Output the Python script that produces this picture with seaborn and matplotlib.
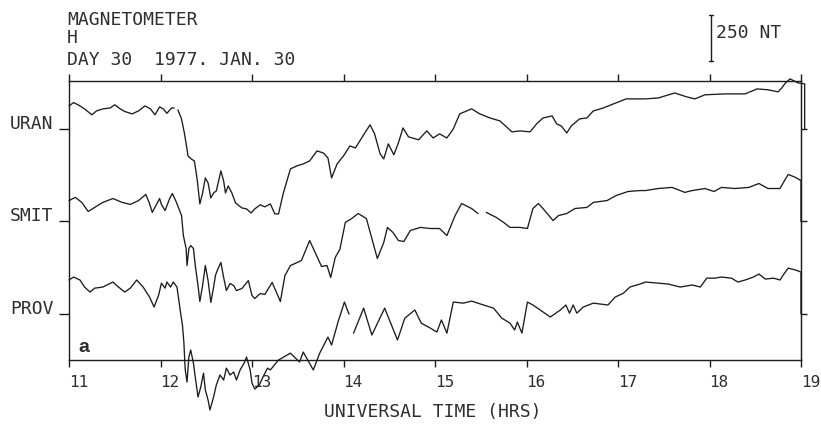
import numpy as np
import pandas as pd
import matplotlib
matplotlib.use("Agg")
import matplotlib.pyplot as plt
import seaborn as sns

# ---------------- data: (UT hour, H deviation in nT from station baseline) ----------------
STATIONS = ["URAN", "SMIT", "PROV"]
OFFSETS = [1000, 500, 0]          # vertical stacking offsets (nT)
XTICKS = [11, 12, 13, 14, 15, 16, 17, 18, 19]
SCALE_NT = 250
GAP = np.nan

URAN = [(11.00, 124), (11.05, 142), (11.10, 130), (11.17, 108), (11.25, 76), (11.30, 97),
        (11.37, 108), (11.45, 113), (11.50, 130), (11.56, 108), (11.61, 94), (11.69, 81),
        (11.76, 97), (11.83, 124), (11.89, 108), (11.94, 76), (11.99, 119), (12.03, 108),
        (12.07, 84), (12.12, 113), (12.15, 113), (12.17, GAP), (12.19, 103), (12.23, 53),
        (12.26, -20), (12.29, -110), (12.30, -146), (12.34, -164), (12.37, -173), (12.40, -270),
        (12.43, -405), (12.46, -346), (12.49, -265), (12.52, -292), (12.55, -373), (12.58, -346),
        (12.61, -335), (12.66, -227), (12.69, -281), (12.71, -346), (12.74, -308), (12.78, -346),
        (12.82, -400), (12.89, -427), (12.94, -432), (12.99, -454), (13.03, -432), (13.09, -410),
        (13.14, -421), (13.20, -405), (13.25, -459), (13.29, -459), (13.34, -351), (13.42, -216),
        (13.49, -200), (13.56, -189), (13.63, -173), (13.71, -119), (13.78, -130), (13.83, -157),
        (13.87, -265), (13.93, -189), (14.00, -146), (14.07, -92), (14.13, -103), (14.22, -32),
        (14.29, 22), (14.34, -27), (14.40, -135), (14.44, -162), (14.49, -81), (14.55, -140),
        (14.60, -76), (14.65, 5), (14.71, -43), (14.82, -59), (14.91, -11), (14.98, -49),
        (15.05, -27), (15.13, -49), (15.20, 0), (15.27, 81), (15.40, 108), (15.49, 81),
        (15.60, 59), (15.71, 43), (15.84, -16), (15.93, -11), (16.04, -16), (16.11, 27),
        (16.18, 59), (16.28, 70), (16.33, 27), (16.38, 16), (16.44, -22), (16.49, 16),
        (16.58, 54), (16.66, 59), (16.73, 97), (16.84, 113), (16.95, 135), (17.09, 162),
        (17.20, 162), (17.30, 162), (17.44, 167), (17.62, 194), (17.75, 173), (17.84, 162),
        (17.95, 184), (18.17, 189), (18.39, 189), (18.52, 216), (18.64, 211), (18.75, 200),
        (18.79, 221), (18.83, 248), (18.88, 270), (18.97, 248), (19.04, 243), (19.04, 0)]

SMIT = [(11.00, 113), (11.07, 130), (11.14, 103), (11.21, 54), (11.28, 76), (11.37, 103),
        (11.48, 124), (11.58, 103), (11.67, 92), (11.76, 113), (11.84, 146), (11.88, 97),
        (11.91, 49), (11.99, 124), (12.01, 92), (12.05, 59), (12.10, 124), (12.13, 151),
        (12.17, 108), (12.23, 32), (12.25, -76), (12.28, -146), (12.29, -238), (12.31, -146),
        (12.33, -130), (12.36, -146), (12.38, -238), (12.41, -346), (12.43, -432), (12.46, -346),
        (12.49, -238), (12.52, -319), (12.55, -437), (12.58, -356), (12.60, -292), (12.62, -265),
        (12.66, -221), (12.69, -302), (12.72, -373), (12.76, -335), (12.80, -346), (12.83, -373),
        (12.89, -362), (12.96, -319), (13.00, -400), (13.03, -416), (13.09, -389), (13.14, -394),
        (13.22, -329), (13.31, -432), (13.36, -292), (13.42, -238), (13.54, -211), (13.63, -103),
        (13.69, -167), (13.76, -243), (13.82, -238), (13.86, -302), (13.91, -194), (13.96, -151),
        (14.02, -5), (14.09, 16), (14.16, 43), (14.25, 16), (14.31, -92), (14.37, -200),
        (14.44, -113), (14.48, -32), (14.54, -59), (14.60, -103), (14.66, -108), (14.73, -49),
        (14.84, -32), (14.95, -38), (15.05, -38), (15.13, -76), (15.22, 32), (15.29, 97),
        (15.40, 70), (15.47, 43), (15.50, GAP), (15.56, 49), (15.67, 22), (15.75, -5),
        (15.82, -32), (15.93, -32), (16.01, -38), (16.07, 70), (16.13, 97), (16.18, 70),
        (16.29, 5), (16.35, 32), (16.44, 43), (16.53, 70), (16.66, 76), (16.73, 103),
        (16.88, 113), (16.98, 140), (17.11, 162), (17.24, 167), (17.30, 167), (17.44, 178),
        (17.59, 184), (17.68, 167), (17.73, 157), (17.81, 167), (17.95, 178), (18.05, 162),
        (18.13, 184), (18.28, 178), (18.43, 184), (18.54, 205), (18.64, 178), (18.77, 178),
        (18.82, 221), (18.86, 254), (18.94, 238), (19.00, 221), (19.00, 0)]

PROV = [(11.00, 184), (11.05, 200), (11.12, 184), (11.17, 146), (11.23, 119), (11.28, 140),
        (11.37, 146), (11.48, 173), (11.54, 146), (11.61, 119), (11.67, 140), (11.74, 184),
        (11.81, 146), (11.88, 92), (11.93, 38), (11.98, 103), (12.01, 167), (12.05, 140),
        (12.07, 173), (12.11, 146), (12.14, 173), (12.18, 146), (12.20, 76), (12.22, 5),
        (12.24, -60), (12.255, -150), (12.27, -300), (12.29, -367), (12.31, -232), (12.33, -194),
        (12.36, -265), (12.38, -340), (12.41, -448), (12.44, -394), (12.47, -319), (12.49, -410),
        (12.52, -464), (12.54, -518), (12.58, -448), (12.61, -383), (12.65, -329), (12.69, -356),
        (12.72, -292), (12.76, -329), (12.80, -313), (12.83, -356), (12.87, -302), (12.92, -259),
        (12.94, -232), (12.98, -302), (13.00, -373), (13.03, -405), (13.08, -383), (13.12, -340),
        (13.17, -292), (13.20, -302), (13.29, -248), (13.42, -211), (13.52, -259), (13.56, -205),
        (13.67, -302), (13.74, -211), (13.83, -124), (13.87, -167), (13.94, -43), (14.01, 65),
        (14.06, 0), (14.085, GAP), (14.11, -103), (14.22, 32), (14.31, -113), (14.45, 32),
        (14.59, -140), (14.67, -22), (14.78, 22), (14.85, -49), (14.95, -76), (15.02, -97),
        (15.07, -32), (15.13, -103), (15.20, 65), (15.31, 59), (15.40, 70), (15.53, 49),
        (15.64, 32), (15.73, -22), (15.82, -49), (15.87, -86), (15.90, -43), (15.95, -103),
        (16.01, 65), (16.07, 49), (16.15, 22), (16.26, -16), (16.37, 22), (16.43, 49),
        (16.47, 5), (16.51, 49), (16.55, 5), (16.62, 38), (16.73, 59), (16.89, 49),
        (16.97, 92), (17.06, 113), (17.13, 146), (17.24, 162), (17.30, 173), (17.44, 167),
        (17.55, 162), (17.68, 146), (17.81, 157), (17.90, 146), (17.97, 194), (18.06, 194),
        (18.13, 200), (18.24, 194), (18.31, 173), (18.39, 184), (18.48, 200), (18.54, 216),
        (18.61, 189), (18.70, 194), (18.77, 184), (18.82, 221), (18.86, 248), (18.94, 238),
        (19.00, 227), (19.00, 0)]

# ---------------- build long-form table ----------------
frames = []
for name, rows, off in zip(STATIONS, [URAN, SMIT, PROV], OFFSETS):
    d = pd.DataFrame(rows, columns=["time", "H"])
    d["H"] = d["H"].astype(float) + off
    seg = d["H"].isna().cumsum()
    d["unit"] = name + "_" + seg.astype(str)
    frames.append(d.dropna())
df = pd.concat(frames, ignore_index=True)

# ---------------- figure ----------------
sns.set_style("ticks")
plt.rcParams["font.family"] = ["DejaVu Sans Mono", "DejaVu Sans"]
INK = "#1c1c1c"
TXT = "#2e2e2e"
FS = 13

W, H = 821, 424
fig = plt.figure(figsize=(W / 100, H / 100), dpi=100)
ax = fig.add_axes([69 / W, 1 - 360 / H, 732 / W, 279 / H])

sns.lineplot(data=df, x="time", y="H", units="unit", estimator=None, sort=False,
             color=INK, lw=0.95, ax=ax, legend=False)
for ln in ax.lines:
    ln.set_clip_on(False)

ax.set_xlim(11, 19)
ax.set_ylim(-248, 1258.6)
ax.set_xlabel("")
ax.set_ylabel("")

for s in ax.spines.values():
    s.set_visible(True)
    s.set_color(INK)
    s.set_linewidth(1.0)

ax.set_xticks(XTICKS)
ax.set_xticklabels([str(v) for v in XTICKS], fontsize=11.5, color=TXT)
for lab in ax.get_xticklabels():
    lab.set_horizontalalignment("left")
ax.tick_params(axis="x", which="both", bottom=True, top=True, direction="out",
               length=5, width=1.0, color=INK, pad=6)

ax.set_yticks(OFFSETS)
ax.set_yticklabels(STATIONS, fontsize=FS, color=TXT)
for lab in ax.get_yticklabels():
    lab.set_verticalalignment("baseline")
ax.tick_params(axis="y", left=True, right=False, direction="out", length=7, width=1.0,
               color=INK, pad=4)

ax2 = ax.secondary_yaxis("right")
ax2.set_yticks(OFFSETS)
ax2.set_yticklabels([])
ax2.tick_params(axis="y", direction="out", length=4.5, width=1.0, color=INK)
ax2.spines["right"].set_color(INK)

# scale bar (250 nT)
SCALE_X = 18.016
SCALE_TOP = 1615
ax.plot([SCALE_X, SCALE_X], [SCALE_TOP, SCALE_TOP - SCALE_NT], color=INK, lw=1.0, clip_on=False)
for yy in (SCALE_TOP, SCALE_TOP - SCALE_NT):
    ax.plot([SCALE_X - 0.02, SCALE_X + 0.02], [yy, yy], color=INK, lw=1.0, clip_on=False)

def ftext(x, y, s, **kw):
    fig.text(x / W, 1 - y / H, s, va="baseline", color=TXT, **kw)

ftext(67, 25, "MAGNETOMETER", fontsize=FS)
ftext(67, 43, "H", fontsize=FS)
ftext(67, 65, "DAY 30  1977. JAN. 30", fontsize=FS)
ftext(716, 38, "%d NT" % SCALE_NT, fontsize=FS)
ftext(433, 417, "UNIVERSAL TIME (HRS)", fontsize=FS, ha="center")
ftext(78, 352, "a", fontsize=14, fontweight="bold", family=["Liberation Sans", "DejaVu Sans"])

fig.savefig("out.png", dpi=100, facecolor="white")
